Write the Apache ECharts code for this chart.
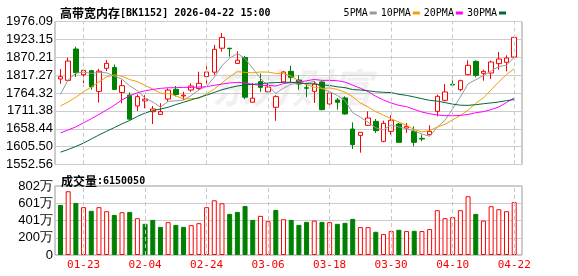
<!DOCTYPE html>
<html><head><meta charset="utf-8">
<script src="https://cdn.jsdelivr.net/npm/echarts@6/dist/echarts.min.js"></script>
<style>html,body{margin:0;padding:0;background:#fff}#c{width:578px;height:276px}</style>
</head><body><div id="c"></div>
<script>
const titleName = '高带宽内存';
const titleCode = '[BK1152] 2026-04-22 15:00';
const volLabel = '成交量';

const dates = ['01-20','01-21','01-22','01-23','01-26','01-27','01-28','01-29','01-30','02-02',
 '02-03','02-04','02-05','02-06','02-09','02-10','02-11','02-12','02-13','02-24',
 '02-25','02-26','02-27','03-02','03-03','03-04','03-05','03-06','03-09','03-10',
 '03-11','03-12','03-13','03-16','03-17','03-18','03-19','03-20','03-23','03-24',
 '03-25','03-26','03-27','03-30','03-31','04-01','04-02','04-03','04-07','04-08',
 '04-09','04-10','04-13','04-14','04-15','04-16','04-17','04-20','04-21','04-22'];

const opens = [1805.8,1801.8,1894.6,1818.6,1830.5,1769,1837.4,1840,1766,1758,
 1726,1741,1709,1701,1746.5,1775,1755.5,1773,1778,1813,
 1826,1897,1897,1852,1869.5,1737,1798,1768,1722,1797,
 1828.5,1802.8,1780,1769.2,1797,1731.7,1743.7,1749.6,1657.7,1638.9,
 1668.6,1680.4,1621.2,1650.8,1672.5,1660.7,1650.8,1630,1641,1710,
 1742.6,1790,1774.2,1818.6,1858.1,1822.6,1823.5,1851.2,1855.2,1870.9];
const closes = [1812.7,1859.1,1824.5,1831.5,1783.1,1829,1852.2,1775,1786,1687,
 1753.5,1746,1717,1709,1773,1760,1758,1785,1793,1826.5,
 1893.7,1929,1895.5,1861.5,1752,1749,1781,1782,1753.5,1826.5,
 1810.7,1791,1778.5,1791,1715,1764.3,1736.8,1702.2,1611.3,1647.8,
 1690.3,1652.8,1674.5,1683.4,1618.2,1665.6,1618.2,1628.1,1650.8,1754.5,
 1767.3,1788,1800.8,1846.3,1816.6,1828.5,1856.1,1865,1868,1929.2];
const lows = [1791.9,1799.9,1811.7,1793.9,1774.2,1736,1829.5,1773,1734,1684,
 1711,1719,1672.5,1699,1738.6,1754,1743.6,1768,1773,1789,
 1818,1887,1872,1851,1746.5,1736,1768,1767,1682,1795.5,
 1796,1774.2,1752,1734.7,1713,1724.8,1715,1700,1598.5,1587.6,
 1667.6,1645.9,1618.2,1640.9,1616.2,1645.9,1606.4,1621.2,1639,1695.2,
 1739.6,1786,1769.3,1816.6,1810.7,1800.8,1805.8,1833.4,1828.5,1869];
const highs = [1835.4,1869,1901.6,1833.4,1833.4,1836,1862,1849,1803,1766,
 1760,1758,1726,1734,1778,1785,1768,1793,1827.5,1850,
 1907,1942,1897.5,1888,1874,1793,1822,1793,1758,1829.5,
 1845,1816.6,1795,1799,1799,1767.3,1749.5,1754.5,1677.4,1648.5,
 1710,1687.3,1682.4,1698.2,1675.5,1675.5,1665.6,1640.9,1668.6,1759.4,
 1791,1813.7,1803.8,1861.1,1861.1,1833.4,1860.1,1885.8,1875.9,1930.2];

const ma5 = [1761,1803,1823,1826,1822.2,1825.4,1824.1,1814.2,1805.1,1785.8,
 1770.7,1749.5,1737.9,1722.5,1739.7,1741,1743.4,1757,1773.8,1784.5,
 1811.2,1845.4,1867.5,1881.2,1866.3,1837.4,1807.8,1785.1,1763.5,1778.4,
 1790.7,1792.7,1792,1799.5,1777.2,1768,1757.1,1741.9,1705.9,1692.5,
 1677.7,1660.9,1655.3,1669.8,1663.8,1658.9,1652,1642.7,1636.2,1663.4,
 1683.8,1717.7,1752.3,1791.4,1803.8,1816,1829.7,1842.5,1846.8,1869.4];
const ma10 = [1726,1738,1752,1768,1782,1797,1812,1818,1814,1804,
 1798.1,1786.8,1776,1763.8,1762.8,1755.9,1746.5,1747.5,1748.2,1762.1,
 1776.1,1794.4,1812.3,1827.5,1825.4,1824.3,1826.6,1826.3,1822.4,1822.4,
 1814.1,1800.3,1788.6,1781.5,1777.8,1779.4,1774.9,1767,1752.7,1734.9,
 1722.8,1709,1698.6,1687.8,1678.2,1668.3,1656.4,1649,1653,1663.6,
 1671.3,1684.9,1697.5,1713.8,1733.6,1749.9,1773.7,1797.4,1819.1,1836.6];
const ma20 = [1646,1655,1664,1676,1688,1701,1714,1728,1744,1756,
 1765,1771,1775,1778,1780,1780,1781,1781,1782,1783.1,
 1787.1,1790.6,1794.2,1795.7,1794.1,1790.1,1786.5,1786.8,1785.2,1792.2,
 1795,1797.3,1800.4,1804.5,1801.6,1801.8,1800.7,1796.6,1787.5,1778.6,
 1768.4,1754.6,1743.5,1734.6,1727.9,1723.8,1715.6,1708,1702.9,1699.3,
 1697.1,1696.9,1698,1700.8,1705.9,1709.1,1715.1,1723.2,1736,1750.1];
const ma30 = [1589,1597,1606,1616,1628,1640,1651,1662,1673,1683,
 1695,1705,1712,1717,1722,1730,1737,1744,1751,1758,
 1766,1774,1780,1785,1788,1790,1792,1794,1795,1796.1,
 1796.1,1793.8,1792.3,1790.9,1788.6,1786.5,1782.6,1780.2,1774.4,1773.1,
 1771,1767.9,1766.4,1765.6,1760.4,1757.3,1752.6,1747.4,1742.7,1740.3,
 1736,1731.3,1728.2,1727.7,1729.8,1732.5,1735,1737.8,1741.6,1745];

const volumes = [5820000,7410000,6050000,5560000,5130000,5560000,5090000,4660000,4970000,5010000,
 4280000,3620000,4080000,3270000,3820000,3500000,3270000,3470000,3700000,5560000,
 6360000,6010000,4780000,5010000,5700000,4080000,4550000,3930000,5240000,4160000,
 4080000,3500000,3850000,4000000,3850000,3820000,3620000,3740000,4200000,3240000,
 3240000,2700000,2430000,2780000,2930000,2780000,2810000,2780000,3010000,5210000,
 4280000,4400000,5210000,6830000,4780000,4000000,5670000,5320000,5090000,6150050];
// 1 = red (rose vs previous close), 0 = green
const volUp = [0,1,0,1,0,1,1,0,1,0, 1,0,0,0,1,0,0,1,1,1, 1,1,0,0,0,0,1,1,0,1,
 0,0,0,1,0,1,0,0,0,1, 1,0,1,1,0,1,0,1,1,1, 1,1,1,1,0,1,1,1,1,1];

const priceTicks = ['1552.56','1605.50','1658.44','1711.38','1764.32','1817.27','1870.21','1923.15','1976.09'];
const priceMin = 1552.56, priceMax = 1976.09;
const volTicks = ['0','200万','401万','601万','802万'];
const volMax = 8020000;
const xTickLabels = ['01-23','02-04','02-24','03-06','03-18','03-30','04-10','04-22'];
const maNames = ['5PMA','10PMA','20PMA','30PMA'];
const maColors = ['#999999','#f0a000','#ff00ff','#006a36'];

const RED = '#ff0000', GREEN = '#008000';
const LABEL_FONT = 'Liberation Sans';
const MONO = 'DejaVu Sans Mono';
const CJK = 'Noto Sans CJK SC';

const candleData = dates.map((d, i) => [opens[i], closes[i], lows[i], highs[i]]);
const volData = volumes.map((v, i) => ({
  value: v,
  itemStyle: volUp[i] ? {color: '#ffffff', borderColor: RED, borderWidth: 1}
                      : {color: GREEN, borderColor: GREEN, borderWidth: 1}
}));

const vlines = {
  symbol: 'none', silent: true, animation: false,
  label: {show: false},
  lineStyle: {type: [4, 3], color: '#c8c8c8', width: 1},
  data: xTickLabels.map(d => ({xAxis: d}))
};

const L = 55, W = 467;
const step = 7.69;
const dataW = step * dates.length;
const dataL = 56.65;

const chart = echarts.init(document.getElementById('c'), null, {renderer: 'canvas'});
chart.setOption({
  animation: false,
  backgroundColor: '#ffffff',
  title: [
    {text: '{c|' + titleName + '}{a|' + titleCode + '}', left: 55, top: 2,
     textStyle: {rich: {c: {fontFamily: CJK, fontSize: 12, color: '#000'},
                        a: {fontFamily: MONO, fontSize: 10, color: '#000'}}}},
    {text: '{c|' + volLabel + '}{a|:' + volumes[volumes.length - 1] + '}', left: 56, top: 170,
     textStyle: {rich: {c: {fontFamily: CJK, fontSize: 12, color: '#000'},
                        a: {fontFamily: MONO, fontSize: 10, color: '#000'}}}}
  ],
  legend: {
    data: maNames, right: 67, top: 3, icon: 'rect', itemWidth: 7, itemHeight: 3,
    itemGap: 4, align: 'right', selectedMode: false,
    textStyle: {fontFamily: MONO, fontSize: 10, color: '#000', padding: [0, -3, 0, 0]}
  },
  graphic: [{
    type: 'text', left: 212, top: 68, z: -1, silent: true,
    style: {text: '东方财富', font: 'italic bold 40px "Noto Sans CJK SC"', fill: '#f0f0f0'}
  }],
  grid: [
    {left: L, width: W, top: 21.5, height: 143, show: true, borderColor: '#999', borderWidth: 1, backgroundColor: 'transparent'},
    {left: dataL, width: dataW, top: 21.5, height: 143},
    {left: L, width: W, top: 186, height: 69, show: true, borderColor: '#999', borderWidth: 1, backgroundColor: 'transparent'},
    {left: dataL, width: dataW, top: 186, height: 69}
  ],
  xAxis: [
    {gridIndex: 0, type: 'value', min: 0, max: 1, show: false},
    {gridIndex: 1, type: 'category', data: dates, show: false},
    {gridIndex: 2, type: 'value', min: 0, max: 1, show: false},
    {gridIndex: 3, type: 'category', data: dates,
     axisLine: {show: false}, axisTick: {show: false}, splitLine: {show: false},
     axisLabel: {interval: (i, v) => xTickLabels.includes(v), margin: 5,
                 color: RED, fontFamily: MONO, fontSize: 11}}
  ],
  yAxis: [
    {gridIndex: 0, type: 'value', min: 0, max: 8, interval: 1,
     axisLine: {show: false}, axisTick: {show: false},
     axisLabel: {margin: 2, color: '#000', fontFamily: LABEL_FONT, fontSize: 13,
                 formatter: v => priceTicks[v]},
     splitLine: {lineStyle: {color: '#cccccc'}}},
    {gridIndex: 1, type: 'value', min: priceMin, max: priceMax, show: false},
    {gridIndex: 2, type: 'value', min: 0, max: 4, interval: 1,
     axisLine: {show: false}, axisTick: {show: false},
     axisLabel: {margin: 2, color: '#000', fontFamily: LABEL_FONT, fontSize: 13,
                 formatter: v => volTicks[v]},
     splitLine: {lineStyle: {color: '#cccccc'}}},
    {gridIndex: 3, type: 'value', min: 0, max: volMax, show: false}
  ],
  series: [
    {type: 'candlestick', xAxisIndex: 1, yAxisIndex: 1, data: candleData, barWidth: 5,
     itemStyle: {color: '#ffffff', color0: GREEN, borderColor: RED, borderColor0: GREEN, borderWidth: 1},
     markLine: vlines, z: 3},
    ...[ma5, ma10, ma20, ma30].map((arr, k) => ({
      type: 'line', name: maNames[k], xAxisIndex: 1, yAxisIndex: 1, data: arr,
      showSymbol: false, symbol: 'none', color: maColors[k],
      lineStyle: {width: 1, color: maColors[k]}, z: 4
    })),
    {type: 'bar', xAxisIndex: 3, yAxisIndex: 3, data: volData, barWidth: 5,
     markLine: vlines, z: 3}
  ]
});
</script>
</body></html>
